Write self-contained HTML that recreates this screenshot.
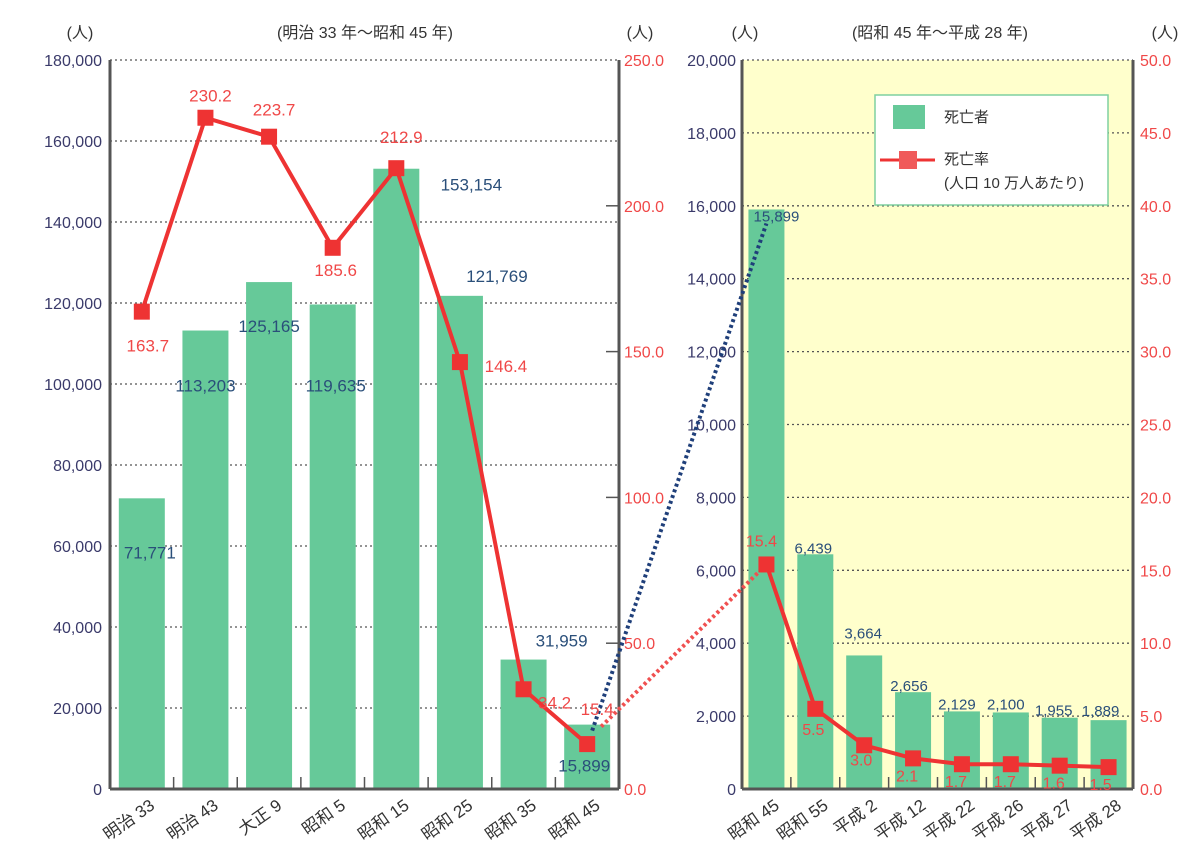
<!DOCTYPE html>
<html><head><meta charset="utf-8">
<style>
html,body{margin:0;padding:0;background:#fff;}
svg{display:block;font-family:"Liberation Sans","Noto Sans CJK JP",sans-serif;}
</style></head>
<body>
<svg id="chart" width="1200" height="868" viewBox="0 0 1200 868" xmlns="http://www.w3.org/2000/svg"></svg>
<script>
// ---- data ----
const leftCategories = ["明治 33","明治 43","大正 9","昭和 5","昭和 15","昭和 25","昭和 35","昭和 45"];
const leftDeaths = [71771,113203,125165,119635,153154,121769,31959,15899];
const leftDeathLabels = ["71,771","113,203","125,165","119,635","153,154","121,769","31,959","15,899"];
const leftRates = [163.7,230.2,223.7,185.6,212.9,146.4,34.2,15.4];
const rightCategories = ["昭和 45","昭和 55","平成 2","平成 12","平成 22","平成 26","平成 27","平成 28"];
const rightDeaths = [15899,6439,3664,2656,2129,2100,1955,1889];
const rightDeathLabels = ["15,899","6,439","3,664","2,656","2,129","2,100","1,955","1,889"];
const rightRates = [15.4,5.5,3.0,2.1,1.7,1.7,1.6,1.5];
const leftYTicks = ["0","20,000","40,000","60,000","80,000","100,000","120,000","140,000","160,000","180,000"];
const leftRateTicks = ["0.0","50.0","100.0","150.0","200.0","250.0"];
const rightYTicks = ["0","2,000","4,000","6,000","8,000","10,000","12,000","14,000","16,000","18,000","20,000"];
const rightRateTicks = ["0.0","5.0","10.0","15.0","20.0","25.0","30.0","35.0","40.0","45.0","50.0"];

// label offsets (layout only)
const lBarOff = [[8,54],[0,55],[0,44],[3,81],[75,16],[37,-20],[38,-19],[-3,41]];
const lRateOff = [[6,34],[5,-22],[5,-27],[3,22],[5,-31],[46,4],[31,13],[10,-35]];
const rBarOff = [[10,6],[-2,-7],[-1,-23],[-4,-7],[-5,-8],[-5,-9],[-6,-8],[-8,-10]];
const rRateOff = [[-5,-24],[-2,20],[-3,14],[-6,17],[-6,17],[-6,17],[-6,17],[-8,17]];

const NS="http://www.w3.org/2000/svg";
const svg=document.getElementById('chart');
function mk(tag,attrs,parent){const e=document.createElementNS(NS,tag);for(const k in attrs)e.setAttribute(k,attrs[k]);(parent||svg).appendChild(e);return e;}
function txt(s,attrs){const e=mk('text',attrs);e.textContent=s;return e;}

const TOP=60,BOT=789;
const L={x0:110,x1:619,max:180000,rmax:250};
const R={x0:742,x1:1133,max:20000,rmax:50};
const yL=v=>BOT-(BOT-TOP)*v/L.max, yLr=v=>BOT-(BOT-TOP)*v/L.rmax;
const yR=v=>BOT-(BOT-TOP)*v/R.max, yRr=v=>BOT-(BOT-TOP)*v/R.rmax;
const bandL=(L.x1-L.x0)/leftCategories.length, bandR=(R.x1-R.x0)/rightCategories.length;
const xL=i=>L.x0+bandL*(i+0.5), xR=i=>R.x0+bandR*(i+0.5);

const NAVY="#3a3a6a", RED="#f04848", GREEN="#66c999", LINE="#ee3333";

let bg=mk('rect',{x:R.x0,y:TOP,width:R.x1-R.x0,height:BOT-TOP,fill:"#ffffcc"});


leftYTicks.forEach((t,i)=>{const y=yL(i*20000);
 if(i>0){const g=mk('line',{x1:L.x0,x2:L.x1,y1:y,y2:y,stroke:"#555",'stroke-width':1.3,'stroke-dasharray':"2,3"});
 }
 const tl=txt(t,{x:102,y:y+6,'text-anchor':'end','font-size':16,fill:NAVY});
 
});
leftRateTicks.forEach((t,i)=>{const y=yLr(i*50);
 const tl=txt(t,{x:624,y:y+6,'font-size':16,fill:RED});
 
 if(i>0&&i<5){const tk=mk('line',{x1:L.x1-13,x2:L.x1,y1:y,y2:y,stroke:"#555",'stroke-width':1.5});
 }
});
rightYTicks.forEach((t,i)=>{const y=yR(i*2000);
 if(i>0){const g=mk('line',{x1:R.x0,x2:R.x1,y1:y,y2:y,stroke:"#555",'stroke-width':1.3,'stroke-dasharray':"2,3"});
 }
 const tl=txt(t,{x:736,y:y+6,'text-anchor':'end','font-size':16,fill:NAVY});
 
});
rightRateTicks.forEach((t,i)=>{const y=yRr(i*5);
 const tl=txt(t,{x:1140,y:y+6,'font-size':16,fill:RED});
 
});

leftDeaths.forEach((v,i)=>{const r=mk('rect',{x:xL(i)-23,y:yL(v),width:46,height:BOT-yL(v),fill:GREEN});
 });
rightDeaths.forEach((v,i)=>{const r=mk('rect',{x:xR(i)-18,y:yR(v),width:36,height:BOT-yR(v),fill:GREEN});
 });

[[L.x0,TOP,L.x0,BOT],[L.x1,TOP,L.x1,BOT],[L.x0,BOT,L.x1,BOT],[R.x0,TOP,R.x0,BOT],[R.x1,TOP,R.x1,BOT],[R.x0,BOT,R.x1,BOT]].forEach(a=>{
 const l=mk('line',{x1:a[0],y1:a[1],x2:a[2],y2:a[3],stroke:"#555",'stroke-width':3});
 });
for(let i=1;i<leftCategories.length;i++){const x=L.x0+bandL*i;const t=mk('line',{x1:x,x2:x,y1:BOT-12,y2:BOT,stroke:"#555",'stroke-width':1.5});
 }
for(let i=1;i<rightCategories.length;i++){const x=R.x0+bandR*i;const t=mk('line',{x1:x,x2:x,y1:BOT-12,y2:BOT,stroke:"#555",'stroke-width':1.5});
 }

const nL=leftDeaths.length-1;
let c1=mk('line',{x1:xL(nL)+5,y1:yL(leftDeaths[nL])+6,x2:xR(0),y2:yR(rightDeaths[0])+14,stroke:"#1f3f7a",'stroke-width':4,'stroke-dasharray':"3,3"});

let c2=mk('line',{x1:xL(nL)+14,y1:yL(leftDeaths[nL])+2,x2:xR(0),y2:yRr(rightRates[0]),stroke:"#f05050",'stroke-width':4,'stroke-dasharray':"3,3"});


let p1=mk('polyline',{points:leftRates.map((v,i)=>xL(i)+','+yLr(v)).join(' '),fill:'none',stroke:LINE,'stroke-width':4});

let p2=mk('polyline',{points:rightRates.map((v,i)=>xR(i)+','+yRr(v)).join(' '),fill:'none',stroke:LINE,'stroke-width':4});

leftRates.forEach((v,i)=>{const m=mk('rect',{x:xL(i)-8,y:yLr(v)-8,width:16,height:16,fill:LINE});
 });
rightRates.forEach((v,i)=>{const m=mk('rect',{x:xR(i)-8,y:yRr(v)-8,width:16,height:16,fill:LINE});
 });

leftDeathLabels.forEach((s,i)=>{const t=txt(s,{x:xL(i)+lBarOff[i][0],y:yL(leftDeaths[i])+lBarOff[i][1]+6,'text-anchor':'middle','font-size':17,fill:"#2a4f7a"});
 });
leftRates.forEach((v,i)=>{const t=txt(v.toFixed(1),{x:xL(i)+lRateOff[i][0],y:yLr(v)+lRateOff[i][1]+6,'text-anchor':'middle','font-size':17,fill:RED});
 });
rightDeathLabels.forEach((s,i)=>{const t=txt(s,{x:xR(i)+rBarOff[i][0],y:yR(rightDeaths[i])+rBarOff[i][1]+6,'text-anchor':'middle','font-size':15,fill:"#2a4f7a"});
 });
rightRates.forEach((v,i)=>{const t=txt(v.toFixed(1),{x:xR(i)+rRateOff[i][0],y:yRr(v)+rRateOff[i][1]+6,'text-anchor':'middle','font-size':16,fill:RED});
 });

leftCategories.forEach((c,i)=>{const x=xL(i)+14,y=808;const t=txt(c,{x:x,y:y,'text-anchor':'end','font-size':17,fill:"#333",transform:`rotate(-35 ${x} ${y})`});
 });
rightCategories.forEach((c,i)=>{const x=xR(i)+14,y=808;const t=txt(c,{x:x,y:y,'text-anchor':'end','font-size':17,fill:"#333",transform:`rotate(-35 ${x} ${y})`});
 });

[[80,"(人)","left-unit"],[640,"(人)","left-rate-unit"],[745,"(人)","right-unit"],[1165,"(人)","right-rate-unit"]].forEach(u=>{
 const t=txt(u[1],{x:u[0],y:38,'text-anchor':'middle','font-size':16,fill:"#333"});
 });
let t1=txt("(明治 33 年〜昭和 45 年)",{x:365,y:38,'text-anchor':'middle','font-size':16,fill:"#333"});

let t2=txt("(昭和 45 年〜平成 28 年)",{x:940,y:38,'text-anchor':'middle','font-size':16,fill:"#333"});


const lg=mk('g',{});

mk('rect',{x:875,y:95,width:233,height:110,fill:"#fff",stroke:"#7fd0a0",'stroke-width':1.5},lg);
let sw=mk('rect',{x:893,y:105,width:32,height:24,fill:GREEN},lg);

mk('line',{x1:880,x2:935,y1:160,y2:160,stroke:LINE,'stroke-width':3},lg);
let sm=mk('rect',{x:899,y:151,width:18,height:18,fill:"#f05a5a"},lg);

let le1=txt("死亡者",{x:944,y:122,'font-size':15,fill:"#333"});lg.appendChild(le1);

let le2=txt("死亡率",{x:944,y:164,'font-size':15,fill:"#333"});lg.appendChild(le2);

let le3=txt("(人口 10 万人あたり)",{x:944,y:188,'font-size':15,fill:"#333"});lg.appendChild(le3);

</script>
</body></html>
